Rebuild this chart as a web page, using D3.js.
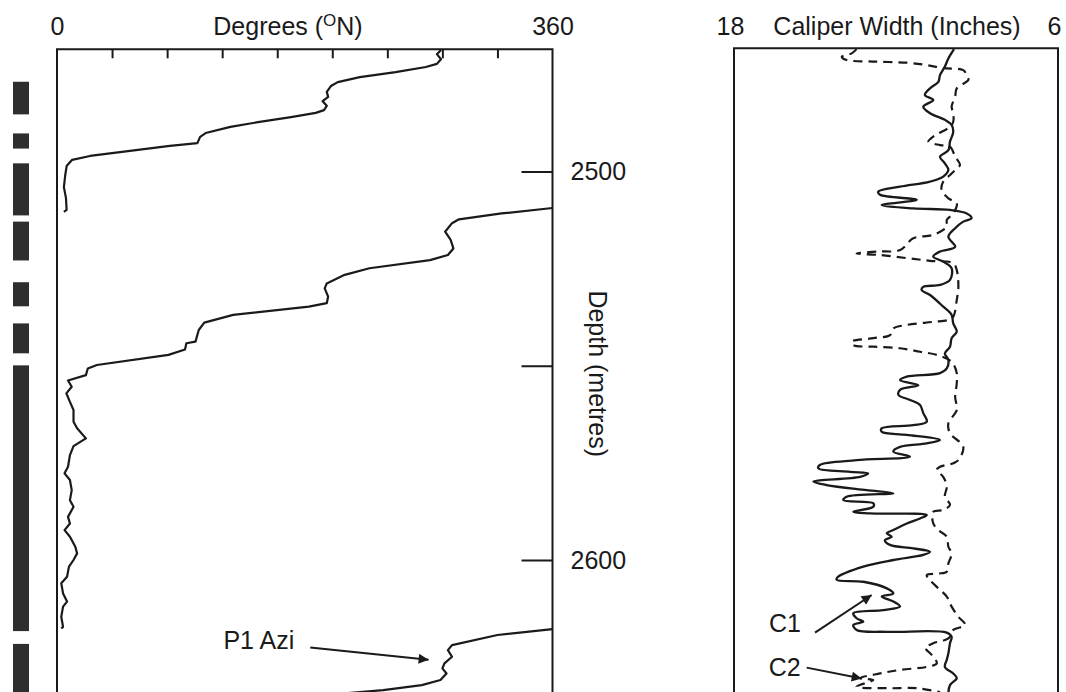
<!DOCTYPE html>
<html>
<head>
<meta charset="utf-8">
<script src="https://cdn.jsdelivr.net/npm/d3@7"></script>
<style>
  body { margin: 0; background: #fff; }
  svg { display: block; font-family: "Liberation Sans", Arial, sans-serif; }
  text { fill: #1a1a1a; }
</style>
</head>
<body>
<svg id="chart" width="1066" height="692"></svg>
<script>
// breakout intervals (depth, metres) shown as black bars on the far left
const breakouts = [
  [2476.9, 2485.3], [2490.2, 2494.1], [2497.9, 2511.3], [2512.9, 2522.9],
  [2528.5, 2534.7], [2539.1, 2546.8], [2549.9, 2618.3], [2621.6, 2640]
];

// P1 azimuth, [depth, degrees]; wraps 360 -> 0 so it is kept in three pieces
const azimuthA = [
  [2468.7, 279], [2469.8, 276], [2471.1, 279], [2472.3, 276], [2473.1, 268], [2474.4, 246],
  [2475.7, 220], [2477.0, 204], [2478.0, 199], [2479.5, 196], [2480.8, 197], [2481.9, 193],
  [2483.1, 196], [2484.2, 194], [2484.9, 188], [2486.0, 170], [2487.3, 146], [2488.5, 126],
  [2490.1, 108], [2491.1, 104], [2492.7, 102], [2493.4, 82], [2494.7, 53], [2496.0, 24],
  [2497.0, 11], [2498.6, 7], [2500.9, 6], [2504.0, 5], [2506.8, 6.5], [2509.9, 7], [2510.4, 5]
];
const azimuthB = [
  [2509.4, 360], [2510.8, 323], [2512.3, 292], [2513.3, 287], [2515.5, 282], [2517.6, 286],
  [2519.8, 288], [2521.5, 284], [2522.8, 271], [2524.9, 227], [2526.6, 209], [2528.8, 196],
  [2530.1, 194.5], [2532.2, 197], [2533.9, 196], [2534.8, 183], [2536.9, 128], [2538.9, 107],
  [2540.8, 103], [2543.8, 100.6], [2544.2, 94], [2545.8, 93], [2547.2, 81], [2549.8, 29],
  [2550.7, 22.4], [2552.4, 21], [2553.8, 8], [2555.4, 10.7], [2557.1, 6.8], [2559.3, 9.4],
  [2561.4, 12], [2564.4, 12], [2566.1, 14.6], [2568.7, 21], [2570.7, 12], [2573.0, 9.4],
  [2576.0, 8], [2577.7, 5.5], [2579.4, 9.4], [2582.0, 10.7], [2584.6, 9.4], [2586.3, 12],
  [2588.9, 8], [2590.6, 9.4], [2592.3, 5.5], [2594.0, 9.4], [2596.6, 13.3], [2598.3, 14.6],
  [2600.0, 12], [2601.7, 8.7], [2604.3, 7.3], [2606.0, 3.1], [2608.6, 4.4], [2610.7, 7.3],
  [2612.0, 4.4], [2614.6, 3.1], [2617.2, 4.4], [2617.6, 3.1]
];
const azimuthC = [
  [2617.8, 360], [2619.3, 320], [2621.9, 287], [2623.2, 284], [2624.9, 287], [2626.6, 281.5],
  [2627.9, 280], [2629.2, 283], [2630.9, 278.6], [2632.2, 265], [2633.5, 237], [2634.6, 200]
];

// caliper arms, [depth, inches]
const caliper1 = [
  [2468.5, 9.85], [2470.9, 10.06], [2473.0, 10.19], [2475.2, 10.37], [2476.9, 10.43], [2478.6, 10.74],
  [2480.3, 10.93], [2481.6, 10.62], [2483.3, 10.99], [2485.0, 10.74], [2486.7, 10.19], [2488.0, 9.94],
  [2489.8, 9.88], [2492.3, 10.0], [2494.5, 10.06], [2496.2, 10.37], [2497.9, 10.19], [2499.6, 10.06],
  [2501.3, 10.25], [2502.6, 10.74], [2503.9, 11.85], [2505.2, 12.66], [2506.0, 12.59], [2507.3, 11.23],
  [2508.6, 12.53], [2509.5, 11.36], [2509.9, 10.0], [2510.8, 9.38], [2512.0, 9.2], [2512.9, 9.51],
  [2514.6, 9.81], [2516.8, 10.06], [2519.4, 9.81], [2520.6, 10.37], [2521.9, 10.62], [2523.2, 10.25],
  [2524.9, 9.94], [2527.9, 10.0], [2529.2, 10.37], [2529.7, 10.99], [2530.5, 11.05], [2531.8, 10.74],
  [2534.8, 10.25], [2536.9, 9.94], [2539.1, 9.88], [2541.2, 9.75], [2542.9, 9.94], [2545.1, 10.0],
  [2546.8, 10.19], [2548.5, 10.06], [2550.7, 10.12], [2551.9, 10.37], [2552.8, 11.6], [2553.7, 11.85],
  [2555.0, 11.17], [2556.2, 11.85], [2557.5, 11.91], [2558.8, 11.48], [2560.1, 11.11], [2562.2, 10.99],
  [2564.4, 10.86], [2565.3, 11.36], [2566.1, 12.53], [2567.0, 12.53], [2567.8, 11.6], [2569.1, 10.37],
  [2570.0, 10.86], [2570.9, 11.85], [2572.1, 12.1], [2573.4, 11.48], [2574.3, 13.46], [2575.5, 14.81],
  [2576.4, 14.88], [2577.3, 13.7], [2577.7, 13.03], [2578.6, 13.33], [2579.8, 15.06], [2580.7, 14.57],
  [2582.0, 13.09], [2582.8, 12.1], [2583.7, 13.83], [2584.6, 13.95], [2585.4, 12.84], [2586.3, 12.84],
  [2587.6, 13.58], [2588.0, 12.96], [2588.4, 10.86], [2589.3, 11.11], [2590.6, 11.6], [2592.3, 12.1],
  [2593.1, 12.34], [2594.0, 12.16], [2594.9, 12.41], [2596.1, 12.22], [2597.0, 11.36], [2597.9, 10.74],
  [2598.7, 10.99], [2600.0, 12.1], [2601.7, 13.21], [2604.3, 14.14], [2605.1, 14.2], [2605.6, 13.21],
  [2607.3, 12.34], [2608.6, 12.1], [2609.4, 12.53], [2610.7, 12.1], [2612.0, 11.85], [2612.9, 12.47],
  [2613.7, 13.58], [2615.0, 13.46], [2615.9, 13.21], [2616.7, 13.58], [2618.0, 13.46], [2618.5, 12.34],
  [2618.7, 10.12], [2619.8, 9.94], [2621.4, 10.0], [2624.0, 10.06], [2625.7, 10.12], [2627.5, 10.19],
  [2629.2, 9.88], [2630.4, 9.75], [2632.2, 10.0], [2634.2, 10.06]
];
const caliper2 = [
  [2468.5, 13.46], [2469.6, 13.64], [2470.5, 14.01], [2471.3, 13.83], [2471.7, 12.84], [2472.0, 11.6],
  [2472.6, 10.86], [2473.4, 10.25], [2473.9, 9.51], [2475.2, 9.38], [2476.4, 9.32], [2478.6, 9.75],
  [2480.7, 9.81], [2483.3, 9.94], [2485.0, 9.88], [2487.2, 9.88], [2488.5, 10.0], [2490.2, 10.43],
  [2491.0, 10.62], [2492.3, 10.8], [2493.2, 10.37], [2493.6, 10.0], [2496.2, 9.81], [2498.3, 9.63],
  [2499.6, 9.81], [2500.9, 10.0], [2502.6, 10.25], [2504.8, 10.31], [2506.9, 10.06], [2508.2, 9.75],
  [2510.8, 9.88], [2512.5, 10.12], [2514.2, 10.12], [2516.3, 10.62], [2517.2, 11.36], [2520.2, 11.85],
  [2520.6, 12.71], [2521.1, 13.46], [2521.5, 12.59], [2522.3, 11.6], [2523.0, 10.74], [2523.6, 9.88],
  [2525.4, 9.75], [2529.7, 9.69], [2533.1, 9.75], [2537.4, 9.88], [2538.2, 10.06], [2538.7, 10.62],
  [2539.5, 11.6], [2540.4, 12.1], [2542.1, 12.22], [2542.9, 12.84], [2543.8, 13.64], [2544.7, 13.58],
  [2545.1, 12.84], [2545.5, 11.85], [2546.4, 11.11], [2547.2, 10.49], [2549.0, 9.94], [2551.9, 9.75],
  [2554.5, 9.75], [2558.0, 9.81], [2561.4, 9.75], [2564.8, 10.06], [2567.4, 10.0], [2570.8, 9.51],
  [2574.3, 9.69], [2575.1, 9.88], [2576.0, 10.37], [2576.8, 10.49], [2578.6, 10.25], [2581.1, 10.12],
  [2583.7, 10.19], [2585.8, 10.0], [2587.1, 10.25], [2587.6, 10.62], [2590.6, 10.62], [2592.3, 10.43],
  [2594.0, 10.12], [2596.6, 10.06], [2598.3, 9.94], [2600.9, 10.06], [2603.0, 10.12], [2603.5, 10.43],
  [2603.9, 10.86], [2605.2, 10.74], [2607.3, 10.43], [2609.4, 10.12], [2612.0, 9.94], [2614.6, 9.69],
  [2616.7, 9.44], [2618.0, 9.88], [2620.2, 10.06], [2621.4, 10.62], [2622.7, 10.93], [2623.2, 10.86],
  [2624.9, 10.62], [2626.6, 10.49], [2627.5, 10.86], [2628.3, 11.85], [2629.2, 12.59], [2630.4, 13.33],
  [2630.9, 12.84], [2632.6, 13.46], [2633.0, 12.34], [2633.0, 11.23], [2634.0, 10.37]
];

const degreeTicks = [40, 80, 120, 160, 200, 240, 280, 320];
const depthTicks = [2500, 2550, 2600];
const depthLabels = [2500, 2600];

// annotations: label, arrow from -> to as [depth, value]
const azimuthNote = { text: "P1 Azi", from: [2622.5, 184], to: [2625.7, 270] };
const caliperNotes = [
  { text: "C1", from: [2618.7, 15.0], to: [2609.0, 12.9], gap: 14, dy: -1 },
  { text: "C2", from: [2627.7, 15.31], to: [2630.5, 13.27], gap: 6, dy: 8 }
];

const svg = d3.select('#chart');
const ink = '#1a1a1a';
const fontSize = 25;

const plotTop = 49.3, plotBottom = 720;
const y = d3.scaleLinear().domain([2500, 2600]).range([171.5, 560]);
const xDeg = d3.scaleLinear().domain([0, 360]).range([57, 552.5]);
const xCal = d3.scaleLinear().domain([18, 6]).range([734, 1058]);

const defs = svg.append('defs');
defs.append('marker')
  .attr('id', 'arrow')
  .attr('viewBox', '0 0 10 10')
  .attr('refX', 10).attr('refY', 5)
  .attr('markerWidth', 7).attr('markerHeight', 5)
  .attr('orient', 'auto')
  .attr('markerUnits', 'strokeWidth')
  .append('path').attr('d', 'M0,0 L10,5 L0,10 z').attr('fill', ink);

defs.append('clipPath').attr('id', 'clipDeg')
  .append('rect').attr('x', xDeg(0)).attr('y', plotTop)
  .attr('width', xDeg(360) - xDeg(0)).attr('height', plotBottom - plotTop);
defs.append('clipPath').attr('id', 'clipCal')
  .append('rect').attr('x', xCal(18)).attr('y', plotTop - 1)
  .attr('width', xCal(6) - xCal(18)).attr('height', plotBottom - plotTop);

// breakout bars
svg.append('g').selectAll('rect')
  .data(breakouts)
  .enter().append('rect')
  .attr('x', 13).attr('width', 16)
  .attr('y', d => y(d[0]))
  .attr('height', d => y(d[1]) - y(d[0]))
  .attr('fill', '#2e2e2e');

// ---- azimuth panel ----
svg.append('path')
  .attr('d', `M${xDeg(0)},${plotBottom} V${plotTop} H${xDeg(360)} V${plotBottom}`)
  .attr('fill', 'none').attr('stroke', ink).attr('stroke-width', 2);

svg.append('g')
  .attr('transform', `translate(0,${plotTop})`)
  .call(d3.axisBottom(xDeg).tickValues(degreeTicks).tickSize(9).tickFormat(''))
  .call(g => g.select('.domain').remove())
  .call(g => g.selectAll('line').attr('stroke', ink).attr('stroke-width', 2));

svg.append('g')
  .attr('transform', `translate(0,${plotTop})`)
  .call(d3.axisTop(xDeg).tickValues([0, 360]).tickSize(0).tickPadding(14))
  .call(g => g.select('.domain').remove())
  .call(g => g.selectAll('text').attr('font-size', fontSize).attr('font-family', null).attr('fill', '#1a1a1a'));

const degTitle = svg.append('text')
  .attr('x', 288).attr('y', plotTop - 14)
  .attr('text-anchor', 'middle')
  .attr('font-size', fontSize);
degTitle.append('tspan').text('Degrees (');
degTitle.append('tspan').attr('font-size', 17).attr('dy', -9).text('O');
degTitle.append('tspan').attr('dy', 9).text('N)');

svg.append('g')
  .attr('transform', `translate(${xDeg(360)},0)`)
  .call(d3.axisRight(y).tickValues(depthTicks).tickSizeInner(-31).tickSizeOuter(0).tickPadding(18)
    .tickFormat(d => depthLabels.includes(d) ? d : ''))
  .call(g => g.select('.domain').remove())
  .call(g => g.selectAll('line').attr('stroke', ink).attr('stroke-width', 2))
  .call(g => g.selectAll('text').attr('font-size', fontSize).attr('font-family', null).attr('fill', '#1a1a1a'));

svg.append('text')
  .attr('transform', `translate(589,${y(2550) + 8}) rotate(90)`)
  .attr('text-anchor', 'middle')
  .attr('font-size', fontSize)
  .text('Depth (metres)');

const azLine = d3.line().x(d => xDeg(d[1])).y(d => y(d[0]));
svg.append('g').attr('clip-path', 'url(#clipDeg)')
  .selectAll('path')
  .data([azimuthA, azimuthB, azimuthC])
  .enter().append('path')
  .attr('d', azLine)
  .attr('fill', 'none').attr('stroke', ink).attr('stroke-width', 2.2)
  .attr('stroke-linejoin', 'round');

svg.append('line')
  .attr('x1', xDeg(azimuthNote.from[1])).attr('y1', y(azimuthNote.from[0]))
  .attr('x2', xDeg(azimuthNote.to[1])).attr('y2', y(azimuthNote.to[0]))
  .attr('stroke', ink).attr('stroke-width', 2).attr('marker-end', 'url(#arrow)');
svg.append('text')
  .attr('x', xDeg(azimuthNote.from[1]) - 16).attr('y', y(azimuthNote.from[0]) + 2)
  .attr('text-anchor', 'end')
  .attr('font-size', fontSize)
  .text(azimuthNote.text);

// ---- caliper panel ----
svg.append('path')
  .attr('d', `M${xCal(18)},${plotBottom} V${plotTop - 1} H${xCal(6)} V${plotBottom}`)
  .attr('fill', 'none').attr('stroke', ink).attr('stroke-width', 2);

svg.append('g')
  .attr('transform', `translate(-4,${plotTop - 1})`)
  .call(d3.axisTop(xCal).tickValues([18, 6]).tickSize(0).tickPadding(13))
  .call(g => g.select('.domain').remove())
  .call(g => g.selectAll('text').attr('font-size', fontSize).attr('font-family', null).attr('fill', '#1a1a1a'));

svg.append('text')
  .attr('x', 897).attr('y', plotTop - 14)
  .attr('text-anchor', 'middle')
  .attr('font-size', fontSize)
  .text('Caliper Width (Inches)');

const calLine = d3.line().x(d => xCal(d[1])).y(d => y(d[0])).curve(d3.curveCatmullRom.alpha(0.5));
const calG = svg.append('g').attr('clip-path', 'url(#clipCal)');
calG.append('path').datum(caliper1)
  .attr('d', calLine)
  .attr('fill', 'none').attr('stroke', ink).attr('stroke-width', 2.3);
calG.append('path').datum(caliper2)
  .attr('d', calLine)
  .attr('fill', 'none').attr('stroke', ink).attr('stroke-width', 2.2)
  .attr('stroke-dasharray', '9,6');

caliperNotes.forEach(n => {
  svg.append('line')
    .attr('x1', xCal(n.from[1])).attr('y1', y(n.from[0]))
    .attr('x2', xCal(n.to[1])).attr('y2', y(n.to[0]))
    .attr('stroke', ink).attr('stroke-width', 2).attr('marker-end', 'url(#arrow)');
  svg.append('text')
    .attr('x', xCal(n.from[1]) - n.gap).attr('y', y(n.from[0]) + n.dy)
    .attr('text-anchor', 'end')
    .attr('font-size', fontSize)
    .text(n.text);
});
</script>
</body>
</html>
